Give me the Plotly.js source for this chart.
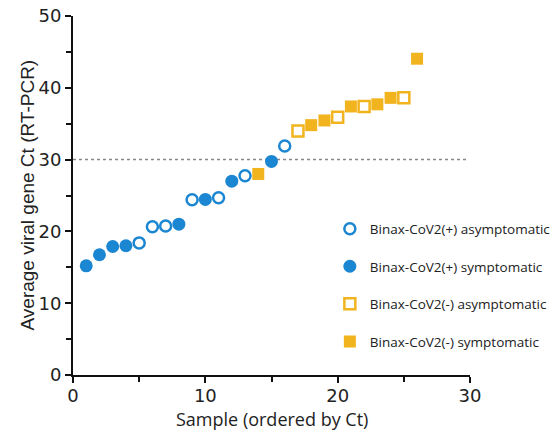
<!DOCTYPE html>
<html><head><meta charset="utf-8">
<script src="https://cdn.plot.ly/plotly-3.0.1.min.js"></script>
<style>html,body{margin:0;padding:0;background:#fff}#chart{width:556px;height:431px}</style>
</head><body><div id="chart"></div>
<script>
// Data
const posAsymX = [5, 6, 7, 9, 11, 13, 16];
const posAsymY = [18.4, 20.65, 20.75, 24.4, 24.7, 27.75, 31.9];
const posSymX = [1, 2, 3, 4, 8, 10, 12, 15];
const posSymY = [15.2, 16.75, 17.9, 18.0, 21.0, 24.45, 27.0, 29.75];
const negAsymX = [17, 20, 22, 25];
const negAsymY = [34.0, 35.9, 37.4, 38.6];
const negSymX = [14, 18, 19, 21, 23, 24, 26];
const negSymY = [28.0, 34.8, 35.45, 37.4, 37.7, 38.6, 44.05];
const seriesNames = ["Binax-CoV2(+) asymptomatic", "Binax-CoV2(+) symptomatic", "Binax-CoV2(-) asymptomatic", "Binax-CoV2(-) symptomatic"];
const xTitle = "Sample (ordered by Ct)";
const yTitle = "Average viral gene Ct (RT-PCR)";
const threshold = 30;
const thresholdEnd = 29.7;

const BLUE = "#1b86d1", GOLD = "#f2b41e";

const traces = [
  {x: posAsymX, y: posAsymY, name: seriesNames[0], legendgroup: "a",
   marker: {symbol: "circle-open", size: 11, color: BLUE, line: {width: 2.5, color: BLUE}}},
  {x: posSymX, y: posSymY, name: seriesNames[1], legendgroup: "b",
   marker: {symbol: "circle", size: 13, color: BLUE}},
  {x: negAsymX, y: negAsymY, name: seriesNames[2], legendgroup: "c",
   marker: {symbol: "square-open", size: 11, color: GOLD, line: {width: 2.5, color: GOLD}}},
  {x: negSymX, y: negSymY, name: seriesNames[3], legendgroup: "d",
   marker: {symbol: "square", size: 12, color: GOLD}}
].map(t => Object.assign({type: "scatter", mode: "markers", cliponaxis: false}, t));

const axisCommon = {
  showgrid: false, zeroline: false, showline: true, linecolor: "#111", linewidth: 2,
  ticks: "outside", ticklen: 6, tickwidth: 2, tickcolor: "#111",
  tickfont: {family: "'DejaVu Sans', sans-serif", size: 18, color: "#222"},
  minor: {dtick: 5, ticks: "outside", ticklen: 5, tickwidth: 2, tickcolor: "#111"}
};

const layout = {
  width: 556, height: 431,
  margin: {l: 73, r: 86, t: 16, b: 56, autoexpand: false},
  paper_bgcolor: "#fff", plot_bgcolor: "#fff",
  showlegend: true,
  xaxis: Object.assign({}, axisCommon, {range: [0, 30], dtick: 10, tick0: 0, ticklabelstandoff: -3}),
  yaxis: Object.assign({}, axisCommon, {range: [0, 50], dtick: 10, tick0: 0}),
  annotations: [
    {text: xTitle, xref: "paper", yref: "paper", x: 0.5, y: 0, xanchor: "center", yanchor: "top",
     yshift: -30, showarrow: false, font: {family: "'Open Sans', sans-serif", size: 18, color: "#222"}},
    {text: yTitle, xref: "paper", yref: "paper", x: 0, y: 0.5, xanchor: "center", yanchor: "middle",
     xshift: -46, textangle: -90, showarrow: false,
     font: {family: "'Liberation Sans', Arial, sans-serif", size: 19, color: "#222"}}
  ],
  legend: {x: 0.647, y: 0.45, xanchor: "left", yanchor: "top", xref: "paper", yref: "paper",
    bgcolor: "rgba(0,0,0,0)", tracegroupgap: 17,
    font: {family: "'Open Sans', sans-serif", size: 13.5, color: "#222"}},
  shapes: [{type: "line", xref: "x", yref: "y", x0: 0, x1: thresholdEnd, y0: threshold, y1: threshold,
    line: {color: "#888", width: 1.5, dash: "dot"}, layer: "below"}]
};

Plotly.newPlot("chart", traces, layout, {displayModeBar: false, staticPlot: true});
</script></body></html>
